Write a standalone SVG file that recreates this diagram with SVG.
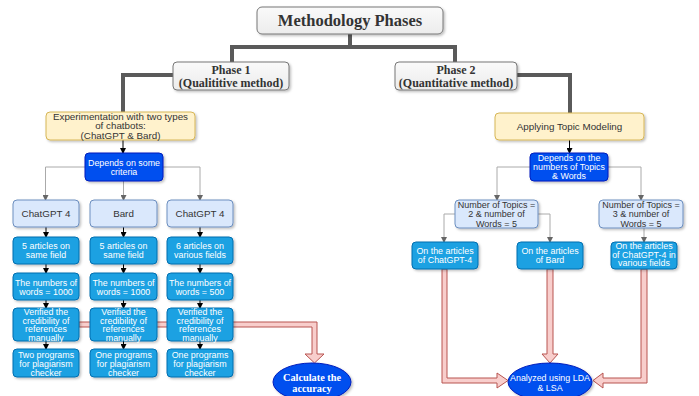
<svg xmlns="http://www.w3.org/2000/svg" width="699" height="396" viewBox="0 0 699 396">
<defs>
<marker id="ab" viewBox="0 0 6 6" refX="5" refY="3" markerWidth="6" markerHeight="6" orient="auto" markerUnits="userSpaceOnUse"><path d="M0,0 L6,3 L0,6 z" fill="#000"/></marker>
<marker id="ag" viewBox="0 0 6 6" refX="5" refY="3" markerWidth="6" markerHeight="6" orient="auto" markerUnits="userSpaceOnUse"><path d="M0,0 L6,3 L0,6 z" fill="#666"/></marker>
<filter id="sh" x="-10%" y="-10%" width="130%" height="140%"><feDropShadow dx="1.5" dy="1.5" stdDeviation="1" flood-color="#000" flood-opacity="0.25"/></filter>
<linearGradient id="gg" x1="0" y1="0" x2="0" y2="1"><stop offset="0" stop-color="#fafafa"/><stop offset="1" stop-color="#ececec"/></linearGradient>
</defs>
<style>
.gray{fill:url(#gg);stroke:#777;stroke-width:1}
.yel{fill:#fff2cc;stroke:#d6b656;stroke-width:1}
.dblue{fill:#0050ef;stroke:#001dbc;stroke-width:1}
.lblue{fill:#dae8fc;stroke:#6c8ebf;stroke-width:1}
.mblue{fill:#1ba1e2;stroke:#006eaf;stroke-width:1}
.pink{fill:#f8cecc;stroke:#b85450;stroke-width:1}
.trunk{fill:none;stroke:#5a5a5a;stroke-width:4}
.blk{fill:none;stroke:#000;stroke-width:1;marker-end:url(#ab)}
.gln{fill:none;stroke:#aaa;stroke-width:1;marker-end:url(#ag)}
text{font-family:"Liberation Sans",Arial,sans-serif;text-anchor:middle}
.ser{font-family:"Liberation Serif","Times New Roman",serif;font-weight:bold;fill:#333}
.t9{font-size:9px;fill:#333}
.t10{font-size:9.8px;fill:#333}
.w9{font-size:8.9px;fill:#fff}
</style>
<rect width="699" height="396" fill="#fff"/>

<g id="connectors">
<path class="trunk" d="M350,34 V47 M232,62 V47 H455 V62"/>
<path class="trunk" d="M173,75 H123 V112"/>
<path class="trunk" d="M517,75 H570 V113"/>
<path class="blk" d="M123,140 V153"/>
<path class="blk" d="M569.5,140 V153"/>
<path class="gln" d="M85,167 H45.5 V200"/>
<path class="gln" d="M123.5,181 V200"/>
<path class="gln" d="M163,167 H200 V200"/>
<path class="blk" d="M46,227 V237"/><path class="blk" d="M123.5,227 V237"/><path class="blk" d="M200,227 V237"/>
<path class="blk" d="M46,264 V273"/><path class="blk" d="M123.5,264 V273"/><path class="blk" d="M200,264 V273"/>
<path class="blk" d="M46,300 V308"/><path class="blk" d="M123.5,300 V308"/><path class="blk" d="M200,300 V308"/>
<path class="blk" d="M46,341 V349"/><path class="blk" d="M123.5,341 V349"/><path class="blk" d="M200,341 V349"/>
<path class="gln" d="M530,167 H497 V200"/>
<path class="gln" d="M608,167 H641 V200"/>
<path class="gln" d="M455,214 H444 V242"/>
<path class="gln" d="M538,214 H550 V242"/>
<path class="gln" d="M644,228 V242"/>
<path class="pink" d="M79,322 H317 V354 H324 L314.5,363 L305,354 H312 V327 H79 Z"/>
<path class="pink" d="M442,269 H447 V378 H497 V373 L508,380.5 L497,388 V383 H442 Z"/>
<path class="pink" d="M547,269 H553 V354 H558 L550,363 L542,354 H547 Z"/>
<path class="pink" d="M641,269 H647 V383 H603 V388 L593,380.5 L603,373 V378 H641 Z"/>
</g>

<g id="title"><rect class="gray" x="257" y="7" width="186" height="27" rx="5" filter="url(#sh)"/><text class="ser" x="350" y="26" font-size="16.5">Methodology Phases</text></g>
<g id="phase1"><rect class="gray" x="173" y="62" width="116" height="28" rx="4" filter="url(#sh)"/><text class="ser" x="231" y="74" font-size="12">Phase 1</text><text class="ser" x="231" y="86.5" font-size="12">(Qualititive method)</text></g>
<g id="phase2"><rect class="gray" x="395" y="62" width="122" height="28" rx="4" filter="url(#sh)"/><text class="ser" x="456" y="74" font-size="12">Phase 2</text><text class="ser" x="456" y="86.5" font-size="12">(Quantitative method)</text></g>

<g id="experimentation"><rect class="yel" x="46" y="112" width="149" height="28" rx="4" filter="url(#sh)"/><text class="t10" x="120.5" y="119.5">Experimentation with two types</text><text class="t10" x="120.5" y="129">of chatbots:</text><text class="t10" x="120.5" y="138.5">(ChatGPT &amp; Bard)</text></g>
<g id="depends1"><rect class="dblue" x="85" y="153" width="78" height="28" rx="4" filter="url(#sh)"/><text class="w9" x="124" y="165.5">Depends on some</text><text class="w9" x="124" y="175">criteria</text></g>

<g id="chatgpt4a"><rect class="lblue" x="13" y="200" width="66" height="27" rx="4" filter="url(#sh)"/><text class="t10" x="46" y="217">ChatGPT 4</text></g>
<g id="bard"><rect class="lblue" x="90" y="200" width="67" height="27" rx="4" filter="url(#sh)"/><text class="t10" x="123.5" y="217">Bard</text></g>
<g id="chatgpt4b"><rect class="lblue" x="167" y="200" width="66" height="27" rx="4" filter="url(#sh)"/><text class="t10" x="200" y="217">ChatGPT 4</text></g>

<g id="articles1"><rect class="mblue" x="13" y="237" width="66" height="27" rx="4" filter="url(#sh)"/><text class="w9" x="46" y="249">5 articles on</text><text class="w9" x="46" y="258">same field</text></g>
<g id="articles2"><rect class="mblue" x="90" y="237" width="67" height="27" rx="4" filter="url(#sh)"/><text class="w9" x="123.5" y="249">5 articles on</text><text class="w9" x="123.5" y="258">same field</text></g>
<g id="articles3"><rect class="mblue" x="167" y="237" width="66" height="27" rx="4" filter="url(#sh)"/><text class="w9" x="200" y="249">6 articles on</text><text class="w9" x="200" y="258">various fields</text></g>

<g id="words1"><rect class="mblue" x="13" y="273" width="66" height="27" rx="4" filter="url(#sh)"/><text class="w9" x="46" y="286">The numbers of</text><text class="w9" x="46" y="295">words = 1000</text></g>
<g id="words2"><rect class="mblue" x="90" y="273" width="67" height="27" rx="4" filter="url(#sh)"/><text class="w9" x="123.5" y="286">The numbers of</text><text class="w9" x="123.5" y="295">words = 1000</text></g>
<g id="words3"><rect class="mblue" x="167" y="273" width="66" height="27" rx="4" filter="url(#sh)"/><text class="w9" x="200" y="286">The numbers of</text><text class="w9" x="200" y="295">words = 500</text></g>

<g id="verified1"><rect class="mblue" x="13" y="308" width="66" height="33" rx="4" filter="url(#sh)"/><text class="w9" x="46" y="315">Verified the</text><text class="w9" x="46" y="323.5">credibility of</text><text class="w9" x="46" y="332">references</text><text class="w9" x="46" y="340.5">manually</text></g>
<g id="verified2"><rect class="mblue" x="90" y="308" width="67" height="33" rx="4" filter="url(#sh)"/><text class="w9" x="123.5" y="315">Verified the</text><text class="w9" x="123.5" y="323.5">credibility of</text><text class="w9" x="123.5" y="332">references</text><text class="w9" x="123.5" y="340.5">manually</text></g>
<g id="verified3"><rect class="mblue" x="167" y="308" width="66" height="33" rx="4" filter="url(#sh)"/><text class="w9" x="200" y="315">Verified the</text><text class="w9" x="200" y="323.5">credibility of</text><text class="w9" x="200" y="332">references</text><text class="w9" x="200" y="340.5">manually</text></g>

<g id="programs1"><rect class="mblue" x="13" y="349" width="66" height="28" rx="4" filter="url(#sh)"/><text class="w9" x="46" y="357.5">Two programs</text><text class="w9" x="46" y="366.5">for plagiarism</text><text class="w9" x="46" y="375.5">checker</text></g>
<g id="programs2"><rect class="mblue" x="90" y="349" width="67" height="28" rx="4" filter="url(#sh)"/><text class="w9" x="123.5" y="357.5">One programs</text><text class="w9" x="123.5" y="366.5">for plagiarism</text><text class="w9" x="123.5" y="375.5">checker</text></g>
<g id="programs3"><rect class="mblue" x="167" y="349" width="66" height="28" rx="4" filter="url(#sh)"/><text class="w9" x="200" y="357.5">One programs</text><text class="w9" x="200" y="366.5">for plagiarism</text><text class="w9" x="200" y="375.5">checker</text></g>

<g id="accuracy"><ellipse class="dblue" cx="312" cy="382" rx="39" ry="19" filter="url(#sh)"/><text class="ser" x="312" y="380.5" font-size="10.3" style="fill:#fff">Calculate the</text><text class="ser" x="312" y="391.5" font-size="10.3" style="fill:#fff">accuracy</text></g>

<g id="topicmodeling"><rect class="yel" x="495" y="113" width="149" height="27" rx="4" filter="url(#sh)"/><text class="t10" x="569.5" y="129.5">Applying Topic Modeling</text></g>
<g id="depends2"><rect class="dblue" x="530" y="153" width="78" height="28" rx="4" filter="url(#sh)"/><text class="w9" x="569" y="161">Depends on the</text><text class="w9" x="569" y="170">numbers of Topics</text><text class="w9" x="569" y="179">&amp; Words</text></g>

<g id="topics2"><rect class="lblue" x="455" y="200" width="83" height="28" rx="4" filter="url(#sh)"/><text class="t9" x="496.5" y="207.5">Number of Topics =</text><text class="t9" x="496.5" y="217">2 &amp; number of</text><text class="t9" x="496.5" y="226.5">Words = 5</text></g>
<g id="topics3"><rect class="lblue" x="599" y="200" width="84" height="28" rx="4" filter="url(#sh)"/><text class="t9" x="641" y="207.5">Number of Topics =</text><text class="t9" x="641" y="217">3 &amp; number of</text><text class="t9" x="641" y="226.5">Words = 5</text></g>

<g id="onchatgpt"><rect class="mblue" x="412" y="242" width="66" height="27" rx="4" filter="url(#sh)"/><text class="w9" x="445" y="254">On the articles</text><text class="w9" x="445" y="263">of ChatGPT-4</text></g>
<g id="onbard"><rect class="mblue" x="517" y="242" width="66" height="27" rx="4" filter="url(#sh)"/><text class="w9" x="550" y="254">On the articles</text><text class="w9" x="550" y="263">of Bard</text></g>
<g id="onvarious"><rect class="mblue" x="611" y="242" width="66" height="27" rx="4" filter="url(#sh)"/><text class="w9" x="644" y="249">On the articles</text><text class="w9" x="644" y="257.5">of ChatGPT-4 in</text><text class="w9" x="644" y="266">various fields</text></g>

<g id="analyzed"><ellipse class="dblue" cx="550" cy="382" rx="42" ry="19" filter="url(#sh)"/><text class="w9" x="550" y="380.5">Analyzed using LDA</text><text class="w9" x="550" y="391">&amp; LSA</text></g>
</svg>
